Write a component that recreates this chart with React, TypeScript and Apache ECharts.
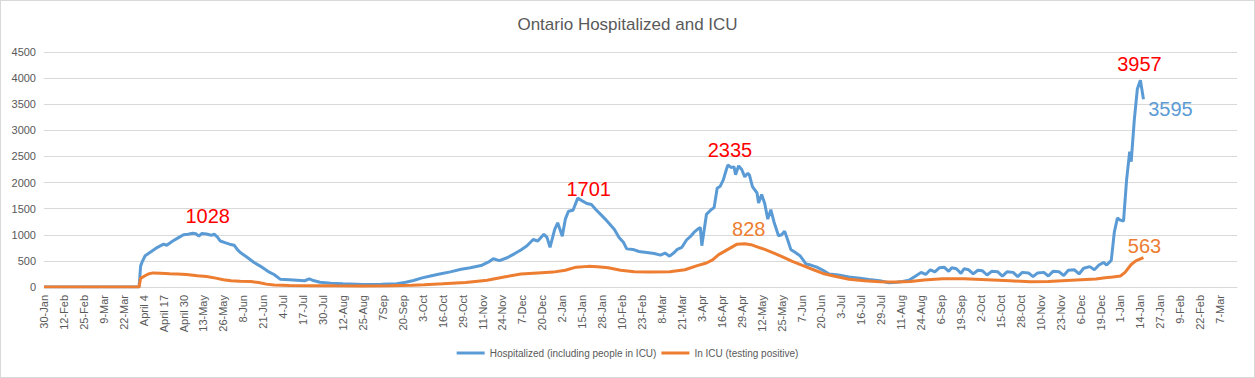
import React, { useEffect, useRef } from "react";
import * as echarts from "echarts";

// Day index 0 = 30-Jan-2020; axis labels every 13 days
const tickLabels = [
  "30-Jan", "12-Feb", "25-Feb", "9-Mar", "22-Mar", "April 4", "April 17", "April 30",
  "13-May", "26-May", "8-Jun", "21-Jun", "4-Jul", "17-Jul", "30-Jul", "12-Aug", "25-Aug",
  "7Sep", "20-Sep", "3-Oct", "16-Oct", "29-Oct", "11-Nov", "24-Nov", "7-Dec", "20-Dec",
  "2-Jan", "15-Jan", "28-Jan", "10-Feb", "23-Feb", "8-Mar", "21-Mar", "3-Apr", "16-Apr",
  "29-Apr", "12-May", "25-May", "7-Jun", "20-Jun", "3-Jul", "16-Jul", "29-Jul", "11-Aug",
  "24-Aug", "6-Sep", "19-Sep", "2-Oct", "15-Oct", "28-Oct", "10-Nov", "23-Nov", "6-Dec",
  "19-Dec", "1-Jan", "14-Jan", "27-Jan", "9-Feb", "22-Feb", "7-Mar",
];
const tickStep = 13;
const lastDay = 778;

const yTicks = [0, 500, 1000, 1500, 2000, 2500, 3000, 3500, 4000, 4500];

const seriesNames = ["Hospitalized (including people in ICU)", "In ICU (testing positive)"];

// [day, value]
const hospitalized: [number, number][] = [
  [0, 0], [62, 0], [63, 400], [64, 480], [66, 600], [70, 680], [74, 760], [78, 820], [80, 800],
  [84, 880], [88, 950], [91, 1000], [94, 1010], [97, 1028], [99, 1020], [101, 975], [103, 1025],
  [106, 1015], [109, 990], [111, 1010], [113, 960], [115, 880], [118, 850], [121, 820], [124, 800],
  [126, 720], [128, 660], [132, 580], [137, 470], [141, 400], [146, 300], [150, 240], [154, 150],
  [160, 140], [165, 130], [170, 120], [173, 155], [175, 130], [180, 90], [187, 70], [195, 60],
  [208, 50], [220, 55], [230, 62], [236, 90], [241, 125], [246, 170], [252, 210], [258, 250],
  [265, 290], [272, 340], [278, 370], [285, 410], [290, 480], [293, 540], [297, 505], [302, 560],
  [307, 640], [311, 710], [315, 790], [319, 910], [322, 880], [326, 1010], [328, 950], [330, 760],
  [333, 1100], [335, 1230], [338, 970], [340, 1300], [342, 1450], [345, 1470], [347, 1620],
  [348, 1701], [351, 1650], [354, 1600], [357, 1580], [360, 1480], [363, 1390], [366, 1300],
  [369, 1200], [372, 1100], [375, 950], [378, 850], [380, 730], [384, 720], [388, 680], [393, 660],
  [398, 640], [402, 610], [405, 650], [408, 590], [411, 660], [413, 720], [416, 760], [419, 900],
  [422, 980], [424, 1050], [426, 1100], [428, 1140], [429, 790], [432, 1390], [435, 1480],
  [437, 1520], [439, 1890], [441, 1930], [443, 2050], [445, 2250], [446, 2335], [448, 2290],
  [450, 2300], [451, 2150], [453, 2320], [455, 2250], [457, 2110], [459, 2180], [460, 2145],
  [462, 1920], [465, 1800], [466, 1610], [468, 1770], [470, 1600], [472, 1300], [474, 1480],
  [476, 1250], [479, 980], [481, 1000], [483, 1070], [485, 900], [487, 720], [490, 660], [493, 600],
  [495, 520], [497, 440], [500, 420], [504, 380], [508, 320], [512, 250], [518, 230], [525, 190],
  [532, 170], [538, 145], [545, 120], [551, 80], [556, 90], [560, 105], [564, 130], [568, 200],
  [572, 280], [575, 240], [578, 330], [581, 290], [584, 370], [587, 380], [590, 300], [592, 370],
  [595, 350], [598, 260], [600, 350], [603, 330], [606, 250], [609, 320], [612, 310], [615, 230],
  [618, 300], [622, 290], [625, 210], [628, 290], [632, 280], [635, 200], [638, 280], [642, 270],
  [645, 200], [648, 270], [652, 280], [655, 210], [658, 300], [662, 290], [665, 220], [668, 320],
  [672, 330], [675, 250], [678, 360], [682, 390], [685, 330], [688, 420], [691, 470], [693, 420],
  [696, 510], [698, 1050], [700, 1320], [702, 1280], [704, 1260], [706, 2050], [708, 2590],
  [709, 2400], [711, 3190], [713, 3790], [715, 3957], [717, 3595],
];

const icu: [number, number][] = [
  [0, 0], [62, 0], [63, 170], [65, 200], [68, 250], [71, 270], [76, 265], [82, 255], [87, 250],
  [93, 240], [100, 215], [106, 200], [112, 170], [117, 140], [122, 120], [128, 110], [135, 105],
  [140, 85], [145, 55], [150, 38], [160, 30], [175, 25], [190, 22], [208, 20], [225, 25], [240, 35],
  [248, 44], [260, 60], [275, 85], [289, 130], [300, 190], [311, 250], [322, 270], [332, 285],
  [340, 320], [347, 380], [355, 395], [361, 390], [368, 370], [376, 320], [385, 290], [395, 285],
  [408, 290], [418, 330], [426, 410], [432, 460], [436, 520], [440, 620], [446, 720], [452, 820],
  [457, 828], [461, 810], [466, 760], [470, 720], [476, 650], [482, 570], [488, 490], [495, 410],
  [501, 340], [508, 260], [515, 210], [525, 150], [535, 120], [545, 100], [556, 95], [565, 105],
  [574, 135], [586, 160], [600, 160], [615, 140], [630, 120], [643, 100], [655, 105], [670, 130],
  [686, 155], [692, 175], [697, 190], [702, 210], [705, 280], [709, 430], [712, 500], [715, 540],
  [717, 563],
];

// Callout labels: [seriesIndex, day, value, text]
const callouts: [number, number, number, string][] = [
  [0, 97, 1028, "1028"],
  [0, 348, 1701, "1701"],
  [0, 446, 2335, "2335"],
  [1, 457, 828, "828"],
  [0, 715, 3957, "3957"],
  [0, 717, 3595, "3595"],
  [1, 717, 563, "563"],
];
const calloutOffsets: [number, number][] = [
  [15, -17], [11, -9], [2, -15], [4, -15], [-1, -16], [27, 10], [1, -12],
];
const calloutColors = ["#FF0000", "#FF0000", "#FF0000", "#ED7D31", "#FF0000", "#5B9BD5", "#ED7D31"];

const COLORS = ["#5B9BD5", "#ED7D31"];
const FONT = "'Liberation Sans', Arial, sans-serif";

export default function App() {
  const ref = useRef<HTMLDivElement>(null);
  useEffect(() => {
    document.body.style.margin = "0";
    if (!ref.current) return;
    const chart = echarts.init(ref.current, undefined, { renderer: "svg" });
    const markData = (si: number) =>
      callouts
        .map((c, i) => ({ c, i }))
        .filter(({ c }) => c[0] === si)
        .map(({ c, i }) => ({
          coord: [c[1], c[2]],
          symbol: "circle",
          symbolSize: 0,
          label: {
            show: true,
            position: "inside",
            offset: calloutOffsets[i],
            formatter: c[3],
            color: calloutColors[i],
            fontSize: 20,
            fontFamily: FONT,
          },
        }));
    chart.setOption({
      animation: false,
      backgroundColor: "#ffffff",
      title: {
        text: "Ontario Hospitalized and ICU",
        left: "center",
        top: 10,
        textStyle: { color: "#595959", fontSize: 17, fontWeight: "normal", fontFamily: FONT },
      },
      grid: { left: 43, right: 17, top: 51, bottom: 90, containLabel: false },
      legend: {
        bottom: 14,
        left: "center",
        icon: "rect",
        itemWidth: 28,
        itemHeight: 3,
        itemGap: 5,
        data: seriesNames,
        textStyle: { color: "#595959", fontSize: 10, fontFamily: FONT },
      },
      xAxis: {
        type: "value",
        min: 0,
        max: lastDay,
        interval: tickStep,
        axisLine: { show: true, lineStyle: { color: "#d9d9d9", width: 1 } },
        axisTick: { show: false },
        splitLine: { show: false },
        axisLabel: {
          rotate: 90,
          margin: 8,
          color: "#595959",
          fontSize: 11,
          fontFamily: FONT,
          showMaxLabel: false,
          formatter: (v: number) =>
            v % tickStep === 0 && tickLabels[v / tickStep] ? tickLabels[v / tickStep] : "",
        },
      },
      yAxis: {
        type: "value",
        min: yTicks[0],
        max: yTicks[yTicks.length - 1],
        interval: yTicks[1] - yTicks[0],
        axisLine: { show: false },
        axisTick: { show: false },
        splitLine: { lineStyle: { color: "#d9d9d9", width: 1 } },
        axisLabel: {
          color: "#595959",
          fontSize: 11,
          margin: 8,
          fontFamily: FONT,
          formatter: (v: number) => String(v),
        },
      },
      series: [
        {
          name: seriesNames[0],
          type: "line",
          data: hospitalized,
          symbol: "none",
          lineStyle: { color: COLORS[0], width: 3 },
          itemStyle: { color: COLORS[0] },
          markPoint: { data: markData(0), silent: true },
          z: 2,
        },
        {
          name: seriesNames[1],
          type: "line",
          data: icu,
          symbol: "none",
          lineStyle: { color: COLORS[1], width: 3 },
          itemStyle: { color: COLORS[1] },
          markPoint: { data: markData(1), silent: true },
          z: 3,
        },
      ],
    });
    return () => chart.dispose();
  }, []);
  return (
    <div
      style={{
        width: 1255,
        height: 378,
        border: "1px solid #d9d9d9",
        boxSizing: "border-box",
        background: "#fff",
      }}
    >
      <div ref={ref} style={{ width: 1253, height: 376 }} />
    </div>
  );
}
